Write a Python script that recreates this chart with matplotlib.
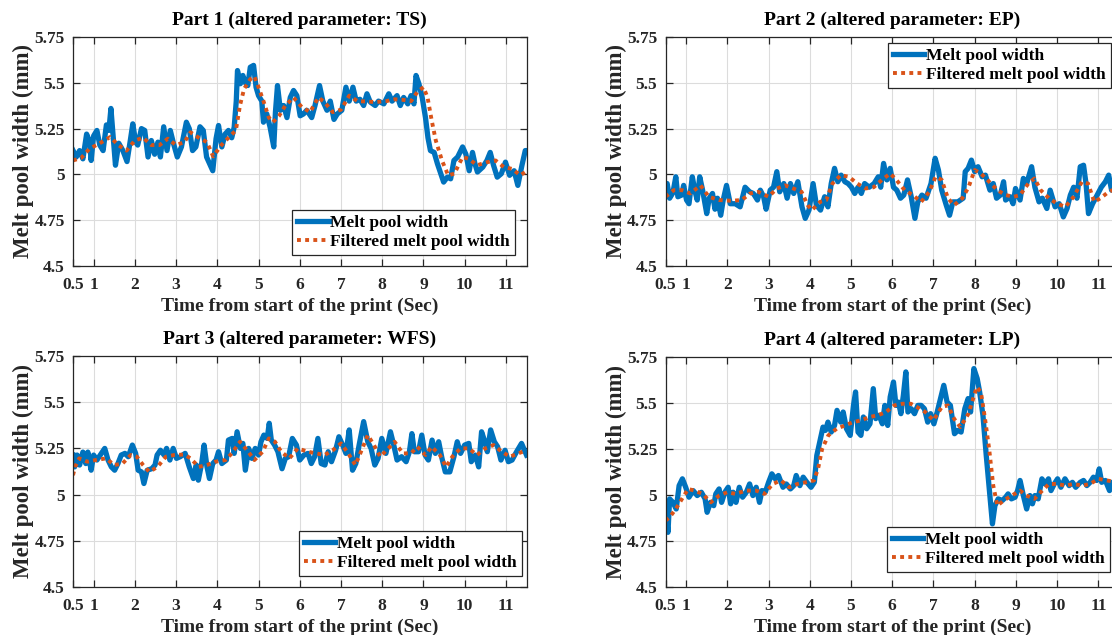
import matplotlib
matplotlib.use("Agg")
import matplotlib.pyplot as plt

# ---------------- data ----------------
t1 = [0.5, 0.58, 0.66, 0.74, 0.83, 0.9, 0.94, 1.0, 1.08, 1.15, 1.23, 1.31, 1.37, 1.42, 1.47, 1.53, 1.61, 1.71,
      1.81, 1.89, 1.95, 2.02, 2.07, 2.16, 2.24, 2.32, 2.4, 2.48, 2.56, 2.62, 2.7, 2.78, 2.86, 2.94, 3.03, 3.13,
      3.25, 3.32, 3.4, 3.48, 3.58, 3.66, 3.74, 3.89, 3.97, 4.03, 4.11, 4.19, 4.27, 4.35, 4.41, 4.46, 4.49, 4.56,
      4.62, 4.68, 4.74, 4.8, 4.88, 4.94, 5.0, 5.08, 5.12, 5.2, 5.28, 5.37, 5.41, 5.46, 5.53, 5.61, 5.69, 5.77,
      5.85, 5.93, 6.01, 6.09, 6.17, 6.29, 6.37, 6.48, 6.56, 6.66, 6.74, 6.83, 6.91, 7.02, 7.12, 7.2, 7.29, 7.37,
      7.46, 7.55, 7.63, 7.71, 7.83, 7.91, 8.04, 8.16, 8.24, 8.36, 8.44, 8.52, 8.62, 8.7, 8.77, 8.82, 8.89, 8.97,
      9.05, 9.11, 9.17, 9.26, 9.34, 9.42, 9.49, 9.58, 9.66, 9.74, 9.83, 9.95, 10.03, 10.11, 10.19, 10.25, 10.31,
      10.44, 10.54, 10.62, 10.7, 10.79, 10.89, 10.99, 11.09, 11.2, 11.29, 11.39, 11.47, 11.5]
w1 = [5.131, 5.095, 5.13, 5.085, 5.22, 5.18, 5.076, 5.21, 5.24, 5.16, 5.13, 5.27, 5.24, 5.36, 5.22, 5.05, 5.17, 5.13,
      5.07, 5.185, 5.276, 5.176, 5.16, 5.25, 5.24, 5.095, 5.185, 5.11, 5.176, 5.095, 5.26, 5.13, 5.24, 5.167, 5.095, 5.15,
      5.285, 5.25, 5.13, 5.15, 5.26, 5.24, 5.095, 5.02, 5.195, 5.267, 5.15, 5.22, 5.24, 5.20, 5.258, 5.40, 5.567, 5.495,
      5.54, 5.50, 5.485, 5.585, 5.595, 5.476, 5.43, 5.40, 5.285, 5.33, 5.258, 5.15, 5.34, 5.485, 5.35, 5.376, 5.31, 5.42,
      5.458, 5.43, 5.32, 5.33, 5.35, 5.31, 5.376, 5.485, 5.40, 5.35, 5.40, 5.30, 5.33, 5.35, 5.476, 5.40, 5.476, 5.40,
      5.41, 5.376, 5.44, 5.395, 5.376, 5.40, 5.385, 5.44, 5.40, 5.43, 5.376, 5.42, 5.385, 5.43, 5.385, 5.54, 5.495, 5.42,
      5.31, 5.20, 5.13, 5.12, 5.058, 5.004, 4.958, 4.985, 4.976, 5.076, 5.095, 5.15, 5.11, 5.02, 5.12, 5.058, 5.013,
      5.04, 5.076, 5.12, 5.05, 4.985, 5.004, 5.067, 4.995, 5.02, 4.94, 5.05, 5.13, 5.13]
tf1 = [0.5, 0.7, 0.9, 1.15, 1.4, 1.6, 1.8, 2.0, 2.2, 2.4, 2.6, 2.8, 3.0, 3.2, 3.35, 3.55, 3.75, 3.9, 4.1, 4.3, 4.45,
       4.55, 4.65, 4.8, 4.9, 5.0, 5.12, 5.25, 5.35, 5.5, 5.65, 5.85, 6.05, 6.25, 6.45, 6.6, 6.8, 7.0, 7.2, 7.4, 7.6,
       7.85, 8.1, 8.3, 8.5, 8.7, 8.85, 9.0, 9.1, 9.2, 9.3, 9.45, 9.6, 9.75, 9.95, 10.1, 10.3, 10.55, 10.75, 10.95,
       11.15, 11.35, 11.5]
f1 = [5.076, 5.09, 5.14, 5.17, 5.204, 5.16, 5.13, 5.185, 5.20, 5.16, 5.16, 5.195, 5.16, 5.176, 5.23, 5.20, 5.176, 5.098,
      5.16, 5.207, 5.24, 5.376, 5.467, 5.52, 5.535, 5.476, 5.40, 5.31, 5.285, 5.32, 5.376, 5.42, 5.367, 5.34, 5.42, 5.395,
      5.34, 5.353, 5.43, 5.40, 5.398, 5.395, 5.40, 5.41, 5.407, 5.40, 5.45, 5.476, 5.42, 5.295, 5.185, 5.076, 4.995,
      5.004, 5.095, 5.085, 5.05, 5.067, 5.076, 5.04, 5.03, 4.995, 5.018]

t2 = [0.5, 0.54, 0.6, 0.68, 0.75, 0.8, 0.89, 0.94, 1.01, 1.07, 1.15, 1.21, 1.27, 1.33, 1.4, 1.5, 1.56, 1.64, 1.7,
      1.76, 1.84, 1.9, 1.98, 2.07, 2.19, 2.31, 2.43, 2.54, 2.63, 2.73, 2.8, 2.88, 2.94, 3.04, 3.12, 3.2, 3.27, 3.37,
      3.45, 3.53, 3.61, 3.71, 3.81, 3.89, 3.98, 4.08, 4.16, 4.26, 4.36, 4.44, 4.52, 4.6, 4.68, 4.76, 4.85, 4.93, 5.01,
      5.09, 5.17, 5.25, 5.33, 5.44, 5.56, 5.66, 5.72, 5.79, 5.87, 5.95, 6.03, 6.11, 6.2, 6.28, 6.37, 6.46, 6.55, 6.62,
      6.72, 6.82, 6.94, 7.04, 7.12, 7.2, 7.31, 7.39, 7.47, 7.59, 7.72, 7.77, 7.84, 7.92, 8.0, 8.08, 8.18, 8.26, 8.37,
      8.45, 8.53, 8.62, 8.7, 8.75, 8.86, 8.93, 8.99, 9.1, 9.18, 9.26, 9.38, 9.46, 9.56, 9.64, 9.75, 9.83, 9.95, 10.05,
      10.15, 10.24, 10.32, 10.4, 10.48, 10.56, 10.64, 10.7, 10.76, 10.86, 10.97, 11.07, 11.17, 11.25, 11.32, 11.4, 11.5]
w2 = [4.93, 4.95, 4.87, 4.90, 4.987, 4.878, 4.887, 4.94, 4.86, 4.84, 4.987, 4.914, 4.86, 4.987, 4.914, 4.786, 4.87,
      4.896, 4.81, 4.87, 4.777, 4.86, 4.94, 4.84, 4.84, 4.823, 4.93, 4.905, 4.896, 4.86, 4.914, 4.878, 4.81, 4.914, 4.93,
      5.015, 4.905, 4.95, 4.87, 4.95, 4.896, 4.96, 4.823, 4.76, 4.805, 4.95, 4.832, 4.805, 4.878, 4.823, 4.95, 5.033,
      4.96, 4.996, 4.96, 4.95, 4.93, 4.896, 4.93, 4.896, 4.95, 4.93, 4.95, 4.987, 4.93, 5.06, 4.97, 5.033, 4.93, 4.914,
      4.87, 4.887, 4.97, 4.878, 4.76, 4.85, 4.887, 4.87, 4.95, 5.088, 5.024, 4.914, 4.832, 4.777, 4.85, 4.85, 4.87,
      5.015, 5.033, 5.078, 5.015, 5.042, 4.987, 4.996, 4.914, 4.95, 4.87, 4.887, 4.96, 4.86, 4.878, 4.84, 4.923, 4.86,
      4.978, 4.95, 5.042, 4.93, 4.85, 4.87, 4.814, 4.914, 4.823, 4.84, 4.768, 4.814, 4.887, 4.93, 4.87, 5.042, 5.05,
      4.95, 4.786, 4.84, 4.887, 4.93, 4.96, 4.996, 4.914, 4.96, 4.95]
tf2 = [0.5, 0.7, 0.9, 1.1, 1.35, 1.55, 1.8, 2.1, 2.35, 2.55, 2.75, 3.0, 3.2, 3.4, 3.6, 3.8, 3.95, 4.05, 4.25, 4.4,
       4.55, 4.75, 4.95, 5.15, 5.35, 5.55, 5.75, 5.95, 6.1, 6.3, 6.5, 6.7, 6.9, 7.05, 7.2, 7.35, 7.5, 7.7, 7.85, 8.0,
       8.15, 8.35, 8.55, 8.75, 8.95, 9.1, 9.3, 9.45, 9.6, 9.8, 10.0, 10.2, 10.4, 10.6, 10.75, 10.9, 11.05, 11.25, 11.5]
f2 = [4.878, 4.914, 4.914, 4.896, 4.94, 4.878, 4.86, 4.856, 4.86, 4.896, 4.905, 4.878, 4.923, 4.94, 4.923, 4.905, 4.832,
      4.805, 4.85, 4.86, 4.95, 4.996, 4.987, 4.95, 4.923, 4.93, 4.97, 5.005, 4.97, 4.914, 4.887, 4.85, 4.905, 4.987,
      4.97, 4.87, 4.832, 4.87, 4.93, 5.024, 5.005, 4.96, 4.914, 4.887, 4.878, 4.887, 4.95, 4.978, 4.914, 4.87, 4.84,
      4.823, 4.878, 4.96, 4.95, 4.85, 4.87, 4.905, 4.93]

t3 = [0.5, 0.54, 0.6, 0.66, 0.74, 0.81, 0.86, 0.94, 1.0, 1.08, 1.19, 1.27, 1.35, 1.43, 1.51, 1.59, 1.67, 1.76, 1.84,
      1.94, 2.02, 2.08, 2.16, 2.22, 2.3, 2.41, 2.49, 2.54, 2.62, 2.71, 2.77, 2.85, 2.93, 3.01, 3.1, 3.22, 3.32, 3.42,
      3.49, 3.54, 3.62, 3.68, 3.75, 3.81, 3.89, 3.97, 4.03, 4.11, 4.22, 4.27, 4.36, 4.41, 4.48, 4.56, 4.62, 4.68, 4.76,
      4.84, 4.92, 5.0, 5.06, 5.13, 5.21, 5.26, 5.31, 5.39, 5.47, 5.57, 5.65, 5.73, 5.82, 5.92, 6.0, 6.1, 6.2, 6.28,
      6.36, 6.44, 6.52, 6.61, 6.69, 6.77, 6.87, 6.95, 7.04, 7.12, 7.2, 7.28, 7.36, 7.44, 7.55, 7.65, 7.73, 7.82, 7.9,
      7.99, 8.09, 8.2, 8.28, 8.36, 8.47, 8.58, 8.66, 8.72, 8.78, 8.88, 8.96, 9.04, 9.12, 9.21, 9.29, 9.37, 9.45, 9.53,
      9.64, 9.74, 9.82, 9.9, 10.0, 10.1, 10.16, 10.26, 10.34, 10.41, 10.49, 10.55, 10.63, 10.72, 10.8, 10.88, 10.98,
      11.06, 11.15, 11.26, 11.38, 11.5]
w3 = [5.214, 5.15, 5.214, 5.16, 5.23, 5.168, 5.23, 5.132, 5.214, 5.187, 5.223, 5.25, 5.187, 5.15, 5.132, 5.168, 5.214,
      5.223, 5.205, 5.268, 5.223, 5.132, 5.123, 5.06, 5.132, 5.14, 5.16, 5.214, 5.24, 5.214, 5.25, 5.187, 5.25, 5.196,
      5.205, 5.223, 5.15, 5.087, 5.16, 5.078, 5.168, 5.268, 5.15, 5.087, 5.168, 5.187, 5.232, 5.168, 5.187, 5.295,
      5.304, 5.223, 5.34, 5.25, 5.277, 5.132, 5.25, 5.196, 5.25, 5.214, 5.286, 5.322, 5.304, 5.386, 5.295, 5.268,
      5.232, 5.14, 5.196, 5.205, 5.304, 5.268, 5.187, 5.214, 5.223, 5.168, 5.205, 5.304, 5.168, 5.16, 5.232, 5.178,
      5.24, 5.313, 5.268, 5.223, 5.35, 5.132, 5.168, 5.268, 5.395, 5.286, 5.25, 5.16, 5.196, 5.304, 5.223, 5.34, 5.268,
      5.187, 5.205, 5.178, 5.232, 5.33, 5.232, 5.232, 5.322, 5.214, 5.187, 5.295, 5.223, 5.286, 5.196, 5.123, 5.123,
      5.205, 5.286, 5.223, 5.268, 5.277, 5.178, 5.214, 5.15, 5.34, 5.286, 5.232, 5.35, 5.286, 5.259, 5.187, 5.24,
      5.178, 5.187, 5.232, 5.277, 5.214]
tf3 = [0.5, 0.55, 0.65, 0.85, 1.05, 1.3, 1.5, 1.7, 1.9, 2.05, 2.2, 2.35, 2.55, 2.75, 2.95, 3.2, 3.35, 3.55, 3.75,
       3.95, 4.2, 4.35, 4.55, 4.75, 4.9, 5.1, 5.25, 5.4, 5.55, 5.75, 5.95, 6.2, 6.4, 6.6, 6.8, 7.0, 7.15, 7.35, 7.5,
       7.65, 7.8, 7.95, 8.15, 8.3, 8.5, 8.7, 8.85, 9.05, 9.2, 9.4, 9.55, 9.7, 9.9, 10.1, 10.3, 10.5, 10.7, 10.9, 11.1,
       11.3, 11.5]
f3 = [5.105, 5.15, 5.196, 5.178, 5.187, 5.196, 5.16, 5.168, 5.214, 5.205, 5.16, 5.123, 5.15, 5.205, 5.214, 5.217, 5.196,
      5.15, 5.16, 5.178, 5.187, 5.223, 5.286, 5.232, 5.187, 5.232, 5.304, 5.286, 5.232, 5.196, 5.25, 5.232, 5.223, 5.214,
      5.24, 5.277, 5.232, 5.16, 5.24, 5.322, 5.268, 5.205, 5.25, 5.286, 5.223, 5.223, 5.259, 5.214, 5.259, 5.214, 5.15,
      5.205, 5.25, 5.25, 5.214, 5.25, 5.268, 5.232, 5.205, 5.223, 5.24]

t4 = [0.5, 0.52, 0.56, 0.6, 0.68, 0.76, 0.83, 0.91, 0.99, 1.07, 1.17, 1.27, 1.37, 1.46, 1.51, 1.59, 1.67, 1.72, 1.8,
      1.86, 1.94, 2.02, 2.08, 2.14, 2.21, 2.29, 2.37, 2.46, 2.54, 2.62, 2.7, 2.78, 2.84, 2.92, 3.0, 3.08, 3.16, 3.24,
      3.35, 3.43, 3.53, 3.61, 3.67, 3.76, 3.84, 3.93, 4.03, 4.11, 4.17, 4.26, 4.32, 4.38, 4.44, 4.52, 4.6, 4.66, 4.75,
      4.81, 4.89, 4.98, 5.06, 5.11, 5.17, 5.24, 5.3, 5.38, 5.46, 5.54, 5.6, 5.68, 5.76, 5.82, 5.89, 5.95, 6.03, 6.09,
      6.15, 6.21, 6.27, 6.33, 6.38, 6.46, 6.54, 6.62, 6.7, 6.78, 6.86, 6.93, 7.01, 7.09, 7.17, 7.25, 7.33, 7.41, 7.51,
      7.59, 7.67, 7.76, 7.84, 7.9, 7.98, 8.06, 8.12, 8.2, 8.28, 8.36, 8.43, 8.49, 8.57, 8.67, 8.75, 8.81, 8.89, 8.98,
      9.04, 9.1, 9.18, 9.26, 9.34, 9.4, 9.46, 9.54, 9.63, 9.71, 9.79, 9.85, 9.93, 10.01, 10.09, 10.19, 10.29, 10.37,
      10.45, 10.56, 10.64, 10.72, 10.8, 10.88, 10.96, 11.02, 11.08, 11.17, 11.27, 11.33, 11.5]
w4 = [4.825, 4.888, 4.797, 4.979, 4.96, 4.924, 5.051, 5.088, 5.042, 4.988, 5.024, 4.997, 5.015, 4.979, 4.906, 4.96,
      4.942, 5.006, 5.033, 4.96, 5.015, 5.042, 4.952, 5.015, 4.96, 5.042, 4.988, 5.015, 5.06, 4.997, 5.042, 4.96, 5.024,
      5.015, 5.069, 5.115, 5.088, 5.106, 5.042, 5.06, 5.033, 5.051, 5.106, 5.051, 5.097, 5.069, 5.042, 5.069, 5.215,
      5.306, 5.369, 5.351, 5.396, 5.342, 5.378, 5.46, 5.396, 5.451, 5.36, 5.324, 5.487, 5.56, 5.342, 5.324, 5.424, 5.36,
      5.387, 5.578, 5.415, 5.433, 5.387, 5.487, 5.378, 5.533, 5.614, 5.487, 5.505, 5.442, 5.542, 5.669, 5.451, 5.469,
      5.442, 5.487, 5.487, 5.469, 5.396, 5.442, 5.387, 5.451, 5.524, 5.596, 5.505, 5.487, 5.333, 5.351, 5.342, 5.469,
      5.524, 5.451, 5.687, 5.633, 5.56, 5.433, 5.215, 5.015, 4.843, 4.942, 4.979, 4.97, 4.988, 5.006, 4.979, 4.988,
      5.024, 5.079, 4.997, 4.924, 4.997, 4.952, 4.997, 4.979, 5.088, 5.06, 5.088, 5.024, 5.06, 5.088, 5.042, 5.088,
      5.051, 5.069, 5.042, 5.069, 5.079, 5.051, 5.069, 5.097, 5.079, 5.142, 5.069, 5.079, 5.024, 5.069, 5.06]
tf4 = [0.5, 0.6, 0.75, 0.9, 1.05, 1.2, 1.4, 1.6, 1.8, 2.0, 2.2, 2.45, 2.7, 2.9, 3.1, 3.3, 3.5, 3.7, 3.9, 4.1, 4.2,
       4.3, 4.45, 4.65, 4.85, 5.05, 5.25, 5.45, 5.65, 5.85, 6.05, 6.25, 6.45, 6.6, 6.8, 7.0, 7.2, 7.35, 7.5, 7.65,
       7.85, 8.05, 8.15, 8.25, 8.35, 8.45, 8.55, 8.7, 8.9, 9.1, 9.25, 9.45, 9.6, 9.8, 10.0, 10.2, 10.4, 10.6, 10.8,
       11.0, 11.2, 11.5]
f4 = [4.861, 4.879, 4.924, 4.979, 5.033, 5.024, 5.006, 4.96, 4.997, 5.015, 5.006, 5.024, 5.024, 5.006, 5.06, 5.079,
      5.042, 5.06, 5.069, 5.079, 5.142, 5.251, 5.324, 5.36, 5.378, 5.396, 5.406, 5.424, 5.433, 5.451, 5.487, 5.496,
      5.496, 5.478, 5.451, 5.406, 5.478, 5.487, 5.415, 5.369, 5.442, 5.587, 5.56, 5.415, 5.251, 5.051, 4.942, 4.97,
      4.997, 5.024, 4.997, 4.979, 5.015, 5.06, 5.06, 5.051, 5.06, 5.051, 5.06, 5.088, 5.079, 5.069]

titles = ["Part 1 (altered parameter: TS)", "Part 2 (altered parameter: EP)",
          "Part 3 (altered parameter: WFS)", "Part 4 (altered parameter: LP)"]
xticks = [0.5, 1, 2, 3, 4, 5, 6, 7, 8, 9, 10, 11]
xticklabels = ["0.5", "1", "2", "3", "4", "5", "6", "7", "8", "9", "10", "11"]
yticks = [4.5, 4.75, 5.0, 5.25, 5.5, 5.75]
yticklabels = ["4.5", "4.75", "5", "5.25", "5.5", "5.75"]
xlabel = "Time from start of the print (Sec)"
ylabel = "Melt pool width (mm)"
legend_labels = ["Melt pool width", "Filtered melt pool width"]

# ---------------- style ----------------
plt.rcParams['font.family'] = ['Liberation Serif', 'DejaVu Serif']
plt.rcParams['font.weight'] = 'bold'
BLUE = '#0072BD'
ORANGE = '#D95319'
AXC = '#262626'

W, H = 1112, 635
fig = plt.figure(figsize=(W / 100, H / 100), dpi=100)


def pos(x0, y0, x1, y1):
    return [x0 / W, 1 - y1 / H, (x1 - x0) / W, (y1 - y0) / H]


positions = [pos(73, 37, 526.5, 266), pos(665.5, 37, 1119, 266),
             pos(73, 356, 526.5, 587), pos(665.5, 357, 1119, 587)]
series = [(t1, w1, tf1, f1), (t2, w2, tf2, f2), (t3, w3, tf3, f3), (t4, w4, tf4, f4)]
legend_locs = ['lower right', 'upper right', 'lower right', 'lower right']
legend_anchor = [(0.975, 0.048), (0.982, 0.974), (0.99, 0.048), (0.98, 0.065)]

for i in range(4):
    ax = fig.add_axes(positions[i])
    t, w, tf, f = series[i]
    ax.plot(t, w, color=BLUE, lw=3.8, solid_joinstyle='round', label=legend_labels[0])
    ax.plot(tf, f, color=ORANGE, lw=2.8, linestyle=(0, (1, 1.1)), dash_capstyle='butt', label=legend_labels[1])
    ax.set_xlim(0.5, 11.5)
    ax.set_ylim(4.5, 5.75)
    ax.set_xticks(xticks)
    ax.set_xticklabels(xticklabels)
    ax.set_yticks(yticks)
    ax.set_yticklabels(yticklabels)
    ax.grid(True, color='#dcdcdc', lw=0.8)
    ax.set_axisbelow(True)
    ax.tick_params(direction='in', top=True, right=True, length=5, width=0.9, colors=AXC,
                   labelsize=12.5)
    ax.tick_params(axis='x', pad=8)
    ax.tick_params(axis='y', pad=6)
    for lab in ax.get_xticklabels() + ax.get_yticklabels():
        lab.set_fontweight('bold')
    for s in ax.spines.values():
        s.set_color(AXC)
        s.set_linewidth(0.9)
    ax.set_title(titles[i], fontsize=14, fontweight='bold', color='black', pad=9)
    ax.set_xlabel(xlabel, fontsize=14, fontweight='bold', color=AXC, labelpad=3)
    ax.set_ylabel(ylabel, fontsize=16.5, fontweight='bold', color=AXC, labelpad=0)
    leg = ax.legend(loc=legend_locs[i], bbox_to_anchor=legend_anchor[i], fancybox=False,
                    edgecolor=AXC, framealpha=1, prop={'weight': 'bold', 'size': 12.5},
                    handlelength=1.8, handletextpad=0.1, borderpad=0.3, labelspacing=0.15,
                    borderaxespad=0.0)
    leg.get_frame().set_linewidth(0.9)

fig.savefig("out.png", dpi=100)
